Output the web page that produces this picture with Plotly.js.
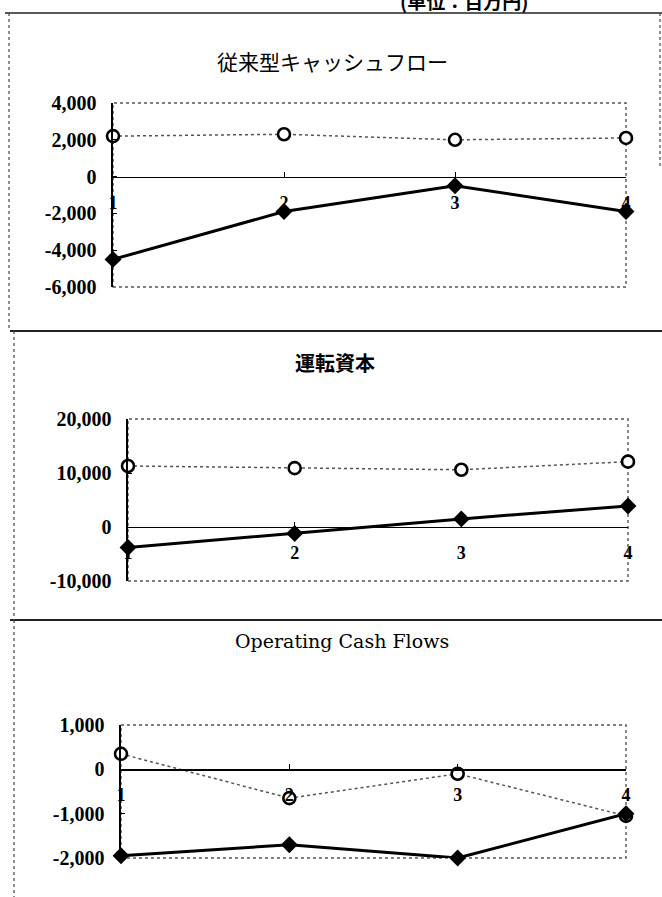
<!DOCTYPE html>
<html>
<head>
<meta charset="utf-8">
<script src="https://cdn.plot.ly/plotly-3.0.1.min.js"></script>
<style>
  html, body { margin: 0; padding: 0; background: #fff; }
  #chart { width: 662px; height: 897px; }
</style>
</head>
<body>
<div id="chart"></div>
<script>
// Periods on the horizontal axis
const periods = ['1', '2', '3', '4'];

// 従来型キャッシュフロー (百万円)
const cfOpen = [2200, 2300, 2000, 2100];
const cfFilled = [-4500, -1900, -500, -1900];
const cfTickVals = [-6000, -4000, -2000, 0, 2000, 4000];
const cfTickText = ['-6,000', '-4,000', '-2,000', '0', '2,000', '4,000'];

// 運転資本 (百万円)
const wcOpen = [11300, 10900, 10600, 12100];
const wcFilled = [-3800, -1200, 1500, 3900];
const wcTickVals = [-10000, 0, 10000, 20000];
const wcTickText = ['-10,000', '0', '10,000', '20,000'];

// Operating Cash Flows (百万円)
const ocfOpen = [350, -650, -100, -1050];
const ocfFilled = [-1950, -1700, -2000, -1000];
const ocfTickVals = [-2000, -1000, 0, 1000];
const ocfTickText = ['-2,000', '-1,000', '0', '1,000'];

const titles = ['従来型キャッシュフロー', '運転資本', 'Operating Cash Flows'];
const unitNote = '(単位：百万円)';

const W = 662, H = 897;
const px = v => v / W;          // page pixel -> paper x
const py = v => 1 - v / H;      // page pixel -> paper y

// Panel geometry in page pixels: plot box left/right/top/bottom
const panels = [
  { l: 113, r: 626, t: 103, b: 287, range: [-6000, 4000], vals: cfTickVals, text: cfTickText,
    open: cfOpen, filled: cfFilled },
  { l: 128, r: 628, t: 419, b: 581, range: [-10000, 20000], vals: wcTickVals, text: wcTickText,
    open: wcOpen, filled: wcFilled },
  { l: 121, r: 626, t: 725, b: 858, range: [-2000, 1000], vals: ocfTickVals, text: ocfTickText,
    open: ocfOpen, filled: ocfFilled }
];

const numFont = { family: 'Liberation Serif, DejaVu Serif, serif', size: 20, color: '#000', weight: 'bold' };
const traces = [];
const layout = {
  width: W, height: H,
  margin: { l: 0, r: 0, t: 0, b: 0 },
  paper_bgcolor: '#fff', plot_bgcolor: 'rgba(0,0,0,0)',
  showlegend: false,
  shapes: [], annotations: []
};

panels.forEach((p, i) => {
  const n = i === 0 ? '' : String(i + 1);
  const xa = 'xaxis' + n, ya = 'yaxis' + n;
  const xr = 'x' + n, yr = 'y' + n;
  const yDom = [py(p.b), py(p.t)];
  // the category axis crosses the value axis at zero
  const zeroPos = yDom[0] + (0 - p.range[0]) / (p.range[1] - p.range[0]) * (yDom[1] - yDom[0]);

  layout[xa] = {
    type: 'category', range: [0, 3], domain: [px(p.l), px(p.r)],
    anchor: 'free', position: zeroPos,
    showline: true, linecolor: '#000', linewidth: 1.3,
    ticks: 'inside', ticklen: 5, tickcolor: '#000', tickwidth: 1,
    showgrid: false, zeroline: false,
    tickfont: { family: 'Liberation Serif, DejaVu Serif, serif', size: 18, color: '#000', weight: 'bold' },
    ticklabelstandoff: 9, fixedrange: true
  };
  layout[ya] = {
    range: p.range, domain: yDom, anchor: xr,
    tickvals: p.vals, ticktext: p.text,
    showline: true, linecolor: '#000', linewidth: 1.6,
    ticks: 'inside', ticklen: 4, tickcolor: '#000',
    showgrid: false, zeroline: false,
    tickfont: numFont, ticklabelstandoff: 11, fixedrange: true
  };

  // dotted plot-area frame
  layout.shapes.push({
    type: 'rect', xref: xr + ' domain', yref: yr + ' domain',
    x0: 0, x1: 1, y0: 0, y1: 1, layer: 'below',
    line: { color: '#555', width: 1.4, dash: 'dot' }
  });

  traces.push({
    x: periods, y: p.open, xaxis: xr, yaxis: yr, type: 'scatter', mode: 'lines+markers',
    line: { color: '#555', width: 1.5, dash: 'dot' },
    marker: { symbol: 'circle', size: 12, color: '#fff', line: { color: '#000', width: 2.6 } },
    cliponaxis: false, hoverinfo: 'skip'
  });
  traces.push({
    x: periods, y: p.filled, xaxis: xr, yaxis: yr, type: 'scatter', mode: 'lines+markers',
    line: { color: '#000', width: 3 },
    marker: { symbol: 'diamond', size: 13, color: '#000' },
    cliponaxis: false, hoverinfo: 'skip'
  });
});

// panel titles
layout.annotations.push(
  { text: titles[0], xref: 'paper', yref: 'paper', x: px(332), y: py(44), showarrow: false,
    font: { family: 'Noto Sans CJK JP', size: 21, color: '#000' } },
  { text: titles[1], xref: 'paper', yref: 'paper', x: px(335), y: py(362), showarrow: false,
    font: { family: 'Noto Sans CJK JP', size: 20, color: '#000', weight: 'bold' } },
  { text: titles[2], xref: 'paper', yref: 'paper', x: px(342), y: py(654), showarrow: false,
    font: { family: 'DejaVu Serif, Liberation Serif, serif', size: 19, color: '#000' } },
  { text: unitNote, xref: 'paper', yref: 'paper', x: px(530), y: py(1), yanchor: 'middle',
    showarrow: false, font: { family: 'Noto Sans CJK JP', size: 19, color: '#000', weight: 'bold' } }
);

// page frame lines between the panels
const frameLine = (x0, y0, x1, y1, w, dash, c) => ({
  type: 'line', xref: 'paper', yref: 'paper',
  x0: px(x0), y0: py(y0), x1: px(x1), y1: py(y1),
  line: { color: c || '#222', width: w, dash: dash || 'solid' }
});
layout.shapes.push(
  frameLine(5, 13, 662, 13, 1.6),
  frameLine(10, 331, 662, 331, 2.2),
  frameLine(10, 620, 662, 620, 1.8),
  frameLine(9, 13, 9, 331, 1.2, 'dot', '#444'),
  frameLine(14, 331, 14, 620, 1.2, 'dot', '#444'),
  frameLine(14, 620, 14, 897, 1.2, 'dot', '#444'),
  frameLine(660, 13, 660, 168, 1.2, 'dot', '#444')
);

Plotly.newPlot('chart', traces, layout, { staticPlot: true, displayModeBar: false });
</script>
</body>
</html>
